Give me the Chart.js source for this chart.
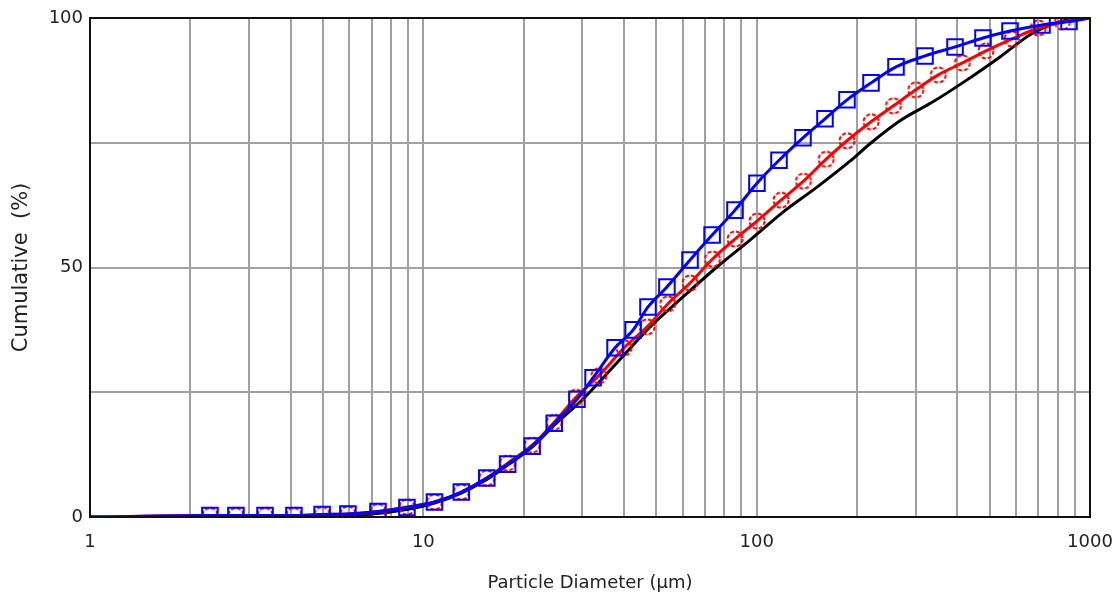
<!DOCTYPE html>
<html>
<head>
<meta charset="utf-8">
<script src="https://cdn.jsdelivr.net/npm/chart.js@4/dist/chart.umd.min.js"></script>
<style>
html, body { margin: 0; padding: 0; background: #fff; }
</style>
</head>
<body>
<canvas id="psd" width="1116" height="598"></canvas>
<script>
// particle size (um) and cumulative %
var blueSize = [1, 2.29, 2.74, 3.35, 4.09, 4.97, 5.94, 7.31, 8.93, 10.8, 13.0, 15.5, 17.9, 21.2, 24.7, 28.9, 32.3, 37.6, 42.6, 47.2, 53.8, 63.1, 73.5, 86.1, 100.2, 116.7, 137.7, 160.3, 186.6, 220.3, 261.8, 319.9, 393.6, 477.5, 575.4, 717.8, 865, 1000];
var blueCum  = [0, 0.3, 0.3, 0.3, 0.3, 0.5, 0.6, 1.1, 1.9, 3.0, 5.0, 7.8, 10.6, 14.2, 18.8, 23.6, 27.9, 33.9, 37.5, 42.1, 46.1, 51.5, 56.5, 61.5, 66.9, 71.5, 76.0, 79.8, 83.6, 87.0, 90.2, 92.4, 94.2, 96.0, 97.4, 98.6, 99.3, 100];

var redSize = [1, 2.29, 2.74, 3.35, 4.09, 4.97, 5.94, 7.31, 8.93, 10.8, 13.0, 15.5, 17.9, 21.2, 24.7, 28.7, 33.6, 40.0, 46.9, 54.1, 63.1, 73.7, 86.1, 100.2, 118.3, 138.1, 161.6, 186.6, 220.3, 257.2, 300.1, 350.5, 414.1, 487.5, 583.6, 699.5, 826, 1000];
var redCum  = [0, 0.3, 0.3, 0.3, 0.3, 0.5, 0.6, 1.1, 2.0, 3.0, 5.0, 7.8, 10.8, 14.4, 19.0, 24.0, 28.3, 33.9, 38.1, 42.7, 46.9, 51.7, 55.7, 59.3, 63.5, 67.3, 71.7, 75.4, 79.2, 82.4, 85.6, 88.6, 91.0, 93.4, 95.8, 98.0, 99.2, 100];

var blackSize = [1, 3, 5, 7, 8.9, 10.8, 13, 15.5, 17.9, 21.2, 24.7, 30.1, 38.1, 47.9, 60.1, 76, 95.5, 120, 151.7, 190.5, 218.8, 269.2, 338, 427.6, 537, 674.5, 853, 1000];
var blackCum  = [0, 0, 0.2, 0.6, 1.5, 2.8, 4.8, 7.5, 10.4, 14.0, 18.4, 23.6, 30.9, 38.1, 44.1, 50.1, 55.5, 61.1, 66.1, 71.3, 74.8, 79.4, 83.2, 87.6, 92.2, 97.0, 99.6, 100];

var xTickLabels = ["1", "10", "100", "1000"];
var yTickLabels = ["0", "50", "100"];

function pts(xs, ys) {
  return xs.map(function (x, i) { return {x: x, y: ys[i]}; });
}
// no marker on the end points of the curve
function radii(xs, r) {
  return xs.map(function (x, i) { return (i === 0 || i === xs.length - 1) ? 0 : r; });
}

// dashed red circle for the red series markers
function dashedCircle() {
  var c = document.createElement("canvas");
  c.width = 20; c.height = 20;
  var g = c.getContext("2d");
  g.strokeStyle = "#ff0000";
  g.lineWidth = 2;
  g.setLineDash([4, 2]);
  g.beginPath();
  g.arc(10, 10, 7.5, 0, Math.PI * 2);
  g.stroke();
  return c;
}

var frame = {
  id: "frame",
  afterDraw: function (chart) {
    var a = chart.chartArea, c = chart.ctx;
    c.save();
    c.strokeStyle = "#111";
    c.lineWidth = 2;
    c.strokeRect(a.left, a.top, a.right - a.left, a.bottom - a.top);
    c.restore();
  }
};

var font = "DejaVu Sans";

var psdChart = new Chart("psd", {
  type: "line",
  data: {
    datasets: [{
      data: pts(blueSize, blueCum),
      borderColor: "#0000ff",
      borderWidth: 3,
      pointStyle: "rect",
      pointRadius: radii(blueSize, 11),
      pointBorderColor: "#0000ff",
      pointBorderWidth: 2,
      pointBackgroundColor: "rgba(0,0,0,0)",
      cubicInterpolationMode: "monotone",
      clip: 0,
      order: 0
    }, {
      data: pts(redSize, redCum),
      borderColor: "#ff0000",
      borderWidth: 3,
      pointStyle: dashedCircle(),
      pointRadius: radii(redSize, 8),
      cubicInterpolationMode: "monotone",
      clip: 0,
      order: 1
    }, {
      data: pts(blackSize, blackCum),
      borderColor: "#000000",
      borderWidth: 3,
      pointRadius: 0,
      cubicInterpolationMode: "monotone",
      clip: 0,
      order: 2
    }]
  },
  options: {
    responsive: false,
    animation: false,
    layout: {padding: {left: 0, right: 26, top: 18, bottom: 0}},
    plugins: {legend: {display: false}, tooltip: {enabled: false}},
    scales: {
      x: {
        type: "logarithmic",
        min: 1,
        max: 1000,
        afterBuildTicks: function (s) {
          var t = [];
          for (var e = 0; e < 3; e++) {
            for (var m = 1; m < 10; m++) t.push({value: m * Math.pow(10, e)});
          }
          t.push({value: 1000});
          s.ticks = t;
        },
        afterFit: function (s) {
          s.height = 81;
          s.paddingLeft = 0;
          s.paddingRight = 0;
        },
        grid: {color: "#a0a0a0", lineWidth: 2, drawTicks: false},
        border: {display: false},
        ticks: {
          autoSkip: false,
          maxRotation: 0,
          padding: 15,
          color: "#222",
          font: {family: font, size: 18},
          callback: function (v) {
            var s = String(v);
            return xTickLabels.indexOf(s) >= 0 ? s : "";
          }
        },
        title: {
          display: true,
          text: "Particle Diameter (µm)",
          color: "#222",
          font: {family: font, size: 18},
          padding: {top: 4, bottom: 4}
        }
      },
      y: {
        min: 0,
        max: 100,
        afterFit: function (s) {
          s.width = 90;
          s.paddingTop = 0;
          s.paddingBottom = 0;
        },
        grid: {color: "#a0a0a0", lineWidth: 2, drawTicks: false},
        border: {display: false},
        ticks: {
          stepSize: 25,
          padding: 7,
          color: "#222",
          font: {family: font, size: 18},
          callback: function (v) {
            var s = String(v);
            return yTickLabels.indexOf(s) >= 0 ? s : "";
          }
        },
        title: {
          display: true,
          text: "Cumulative  (%)",
          color: "#222",
          font: {family: font, size: 21},
          padding: {top: 9, bottom: 9}
        }
      }
    }
  },
  plugins: [frame]
});
</script>
</body>
</html>
